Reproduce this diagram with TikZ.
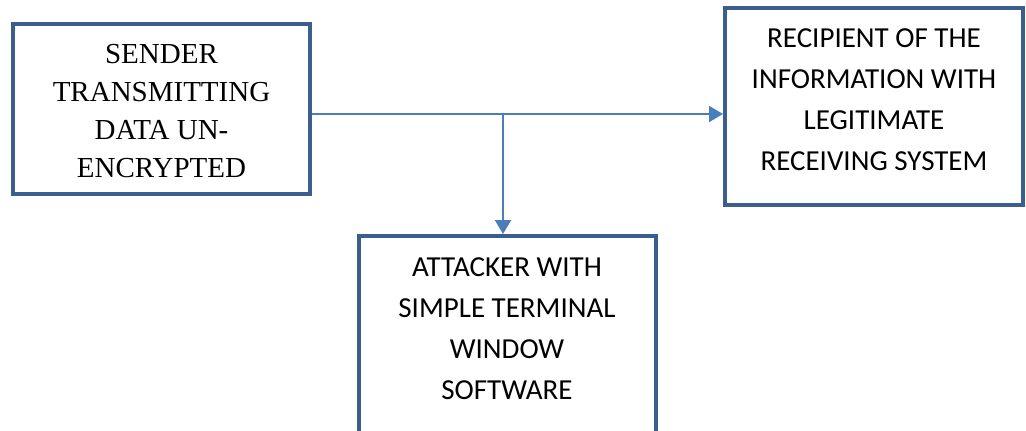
\documentclass[tikz,border=0pt]{standalone}
\usepackage{fontspec}
\setmainfont{Liberation Serif}
\newfontfamily\calibrifont{Carlito}
\usetikzlibrary{arrows.meta}
\definecolor{boxblue}{HTML}{3A5F8F}
\definecolor{linkblue}{HTML}{4A7EBB}
\tikzset{
  block/.style={draw=boxblue, line width=4pt, rectangle, fill=white, inner sep=0pt},
  serifnote/.style={align=center, inner sep=0pt, font=\fontsize{29}{38}\selectfont},
  sansnote/.style={align=center, inner sep=0pt, font=\calibrifont\fontsize{29}{41}\selectfont},
  link/.style={draw=linkblue, line width=2pt, -{Triangle[length=14pt,width=16pt]}}
}
\begin{document}
\begin{tikzpicture}[x=1pt,y=-1pt]
  \useasboundingbox (0,0) rectangle (1026,431);
  \begin{scope}
    \clip (0,0) rectangle (1026,431);
    % boxes
    \node[block, minimum width=297pt, minimum height=170pt] (sender) at (161.5,109) {};
    \node[block, minimum width=298pt, minimum height=197pt] (recipient) at (874,106.5) {};
    \node[block, minimum width=297pt, minimum height=200pt] (attacker) at (507.5,336) {};
    % labels
    \node[serifnote] (sendertext) at (161.5,111) {SENDER\\TRANSMITTING\\DATA UN-\\ENCRYPTED};
    \node[sansnote] (recipienttext) at (874,100) {RECIPIENT OF THE\\INFORMATION WITH\\LEGITIMATE\\RECEIVING SYSTEM};
    \node[sansnote] (attackertext) at (507,328.5) {ATTACKER WITH\\SIMPLE TERMINAL\\WINDOW\\SOFTWARE};
    % connectors
    \coordinate (split) at (503,114);
    \draw[link] (sender.east |- split) -- (recipient.west |- split);
    \draw[link] (split) -- (attacker.north -| split);
  \end{scope}
\end{tikzpicture}
\end{document}
